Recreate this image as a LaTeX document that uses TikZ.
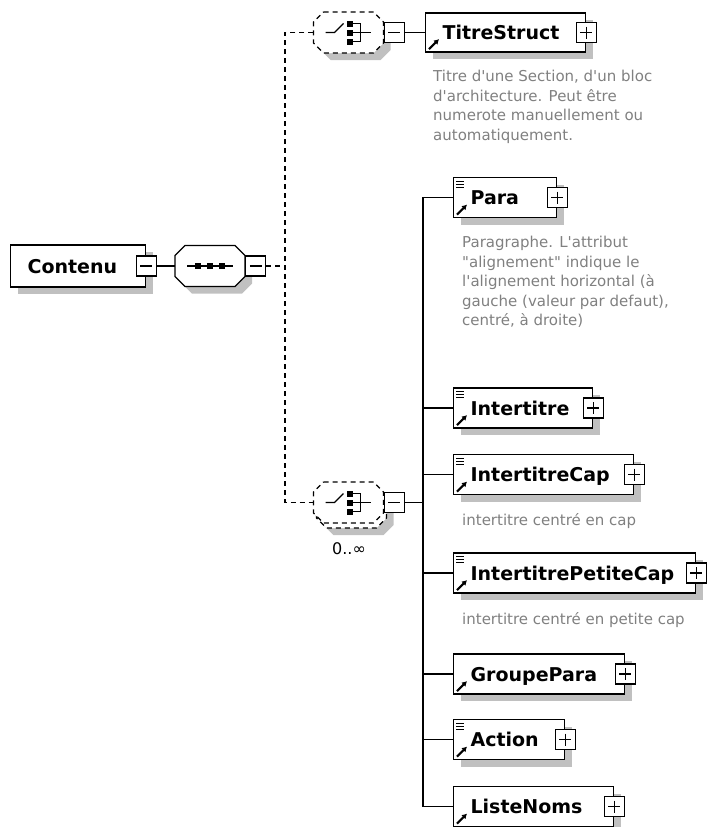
\documentclass[tikz,border=0pt]{standalone}
\usepackage{fontspec}
\setmainfont{DejaVu Sans}[Ligatures=TeXOff]
\usetikzlibrary{shadows,arrows.meta}
\definecolor{shadowgray}{RGB}{192,192,192}
\definecolor{docgray}{RGB}{128,128,128}
\tikzset{
  castshadow/.style={drop shadow={shadow xshift=7pt, shadow yshift=-7pt, fill=shadowgray, opacity=1}},
  elem/.style={draw, fill=white, line width=1.2pt, anchor=west, align=left, text width=#1,
    inner xsep=17pt, minimum height=40pt, text height=14pt, text depth=0pt,
    font=\fontsize{19}{22}\selectfont\bfseries, castshadow},
  signbox/.style={draw, fill=white, line width=1.2pt, minimum size=20pt, inner sep=0pt},
  minusbox/.style={signbox, path picture={
    \draw ([xshift=4pt]path picture bounding box.west) -- ([xshift=-4pt]path picture bounding box.east);}},
  plusbox/.style={signbox, path picture={
    \draw ([xshift=4pt]path picture bounding box.west) -- ([xshift=-4pt]path picture bounding box.east);
    \draw ([yshift=-4pt]path picture bounding box.north) -- ([yshift=4pt]path picture bounding box.south);}},
  octa/.pic={\path[pic actions] (-25,-20.5) -- (25,-20.5) -- (35,-10.5) -- (35,10.5) -- (25,20.5)
    -- (-25,20.5) -- (-35,10.5) -- (-35,-10.5) -- cycle;},
  octashadow/.style={fill=shadowgray},
  seqframe/.style={draw, fill=white, line width=1.2pt},
  choiceframe/.style={draw, fill=white, line width=1.2pt, dash pattern=on 5pt off 4pt},
  hub/.style={minimum width=70pt, minimum height=41pt, inner sep=0pt},
  link/.style={line width=1.2pt},
  optlink/.style={line width=1.2pt, dash pattern=on 5pt off 4pt},
  docicon/.style={line width=0.8pt},
  refarrow/.style={-{Latex[length=5pt,width=6pt]}, line width=2.2pt},
  doc/.style={anchor=north west, align=left, inner sep=0pt, text=docgray, font=\fontsize{15}{19.5}\selectfont}
}
\begin{document}
\begin{tikzpicture}[x=1pt, y=-1pt]
\useasboundingbox (0,0) rectangle (709,827);
% root element and its sequence
\node[elem=101pt, minimum height=42pt] (contenu) at (10,266) {Contenu};
\node[minusbox] (contenu-m) at (contenu.east) {};
\pic[octashadow] at (217,273) {octa};
\pic[seqframe] at (210,266) {octa};
\node[hub] (seq) at (210,266) {};
\node[minusbox, anchor=west] (seq-m) at (seq.east) {};
\draw[link] ([xshift=-23pt]seq.center) -- ([xshift=23pt]seq.center);
\fill ([shift={(-15,-3)}]seq.center) rectangle ++(6,6);
\fill ([shift={(-3,-3)}]seq.center) rectangle ++(6,6);
\fill ([shift={(9,-3)}]seq.center) rectangle ++(6,6);
\coordinate (split) at (285,266);

% first choice
\pic[octashadow] at (355.5,39.5) {octa};
\pic[choiceframe] at (348.5,32.5) {octa};
\node[hub] (choiceA) at (348.5,32.5) {};
\node[minusbox, anchor=west] (choiceA-m) at (choiceA.east) {};
\draw[link] ([xshift=-23pt]choiceA.center) -- ++(9,0) -- ++(9,-9);
\fill ([shift={(-2,-12)}]choiceA.center) rectangle ++(6,6);
\fill ([shift={(-2,-3)}]choiceA.center) rectangle ++(6,6);
\fill ([shift={(-2,6)}]choiceA.center) rectangle ++(6,6);
\draw[link] ([shift={(4,-9)}]choiceA.center) -| ([shift={(12,9)}]choiceA.center) -- ++(-8,0);
\draw[link] ([xshift=4pt]choiceA.center) -- ++(18,0);
\node[elem=126pt, minimum height=39pt] (titre) at (425,32.5) {TitreStruct};
\node[plusbox] (titre-p) at (titre.east) {};
\node[doc] (titre-doc) at ([shift={(8,17.5)}]titre.south west) {Titre d'une Section, d'un bloc\\d'architecture. Peut être\\numerote manuellement ou\\automatiquement.};

% second choice, repeated
\pic[octashadow] at (358.5,514.5) {octa};
\pic[choiceframe] at (351.5,507.5) {octa};
\pic[choiceframe] at (348.5,502.5) {octa};
\node[hub] (choiceB) at (348.5,502.5) {};
\node[minusbox, anchor=west] (choiceB-m) at (choiceB.east) {};
\draw[link] ([xshift=-23pt]choiceB.center) -- ++(9,0) -- ++(9,-9);
\fill ([shift={(-2,-12)}]choiceB.center) rectangle ++(6,6);
\fill ([shift={(-2,-3)}]choiceB.center) rectangle ++(6,6);
\fill ([shift={(-2,6)}]choiceB.center) rectangle ++(6,6);
\draw[link] ([shift={(4,-9)}]choiceB.center) -| ([shift={(12,9)}]choiceB.center) -- ++(-8,0);
\draw[link] ([xshift=4pt]choiceB.center) -- ++(18,0);
\node[font=\fontsize{16}{19}\selectfont] (choiceB-occ) at (349,549) {0..∞};
\coordinate (trunk) at (423,502.5);

% children of the second choice
\node[elem=69pt] (para) at (453,197.5) {Para};
\node[plusbox] (para-p) at (para.east) {};
\node[doc] (para-doc) at ([shift={(9,18)}]para.south west) {Paragraphe. L'attribut\\"alignement" indique le\\l'alignement horizontal (à\\gauche (valeur par defaut),\\centré, à droite)};
\node[elem=105pt] (intertitre) at (453,408) {Intertitre};
\node[plusbox] (intertitre-p) at (intertitre.east) {};
\node[elem=146pt] (intertitrecap) at (453,474.5) {IntertitreCap};
\node[plusbox] (intertitrecap-p) at (intertitrecap.east) {};
\node[doc] (intertitrecap-doc) at ([shift={(9,18)}]intertitrecap.south west) {intertitre centré en cap};
\node[elem=208pt] (petitecap) at (453,573) {IntertitrePetiteCap};
\node[plusbox] (petitecap-p) at (petitecap.east) {};
\node[doc] (petitecap-doc) at ([shift={(9,19)}]petitecap.south west) {intertitre centré en petite cap};
\node[elem=137pt] (groupepara) at (453,674) {GroupePara};
\node[plusbox] (groupepara-p) at (groupepara.east) {};
\node[elem=77pt] (action) at (453,739.5) {Action};
\node[plusbox] (action-p) at (action.east) {};
\node[elem=126pt] (listenoms) at (453,806.5) {ListeNoms};
\node[plusbox] (listenoms-p) at (listenoms.east) {};

% icons
\draw[docicon] ([shift={(3,4)}]para.north west) -- ++(8,0) ([shift={(3,7)}]para.north west) -- ++(8,0) ([shift={(3,10)}]para.north west) -- ++(8,0);
\draw[docicon] ([shift={(3,4)}]intertitre.north west) -- ++(8,0) ([shift={(3,7)}]intertitre.north west) -- ++(8,0) ([shift={(3,10)}]intertitre.north west) -- ++(8,0);
\draw[docicon] ([shift={(3,4)}]intertitrecap.north west) -- ++(8,0) ([shift={(3,7)}]intertitrecap.north west) -- ++(8,0) ([shift={(3,10)}]intertitrecap.north west) -- ++(8,0);
\draw[docicon] ([shift={(3,4)}]petitecap.north west) -- ++(8,0) ([shift={(3,7)}]petitecap.north west) -- ++(8,0) ([shift={(3,10)}]petitecap.north west) -- ++(8,0);
\draw[docicon] ([shift={(3,4)}]action.north west) -- ++(8,0) ([shift={(3,7)}]action.north west) -- ++(8,0) ([shift={(3,10)}]action.north west) -- ++(8,0);
\draw[refarrow] ([shift={(4,-3.5)}]titre.south west) -- ++(10,-10);
\draw[refarrow] ([shift={(4,-3.5)}]para.south west) -- ++(10,-10);
\draw[refarrow] ([shift={(4,-3.5)}]intertitre.south west) -- ++(10,-10);
\draw[refarrow] ([shift={(4,-3.5)}]intertitrecap.south west) -- ++(10,-10);
\draw[refarrow] ([shift={(4,-3.5)}]petitecap.south west) -- ++(10,-10);
\draw[refarrow] ([shift={(4,-3.5)}]groupepara.south west) -- ++(10,-10);
\draw[refarrow] ([shift={(4,-3.5)}]action.south west) -- ++(10,-10);
\draw[refarrow] ([shift={(4,-3.5)}]listenoms.south west) -- ++(10,-10);

% connectors
\draw[link] (contenu-m.east) -- (seq.west);
\draw[optlink] (seq-m.east) -- (split);
\draw[optlink] (choiceA.west) -| (split) |- (choiceB.west);
\draw[link] (choiceA-m.east) -- (titre.west);
\draw[link] (choiceB-m.east) -- (trunk);
\draw[link] (para.west) -| (trunk |- listenoms.west) -- (listenoms.west);
\draw[link] (intertitre.west -| trunk) -- (intertitre.west);
\draw[link] (intertitrecap.west -| trunk) -- (intertitrecap.west);
\draw[link] (petitecap.west -| trunk) -- (petitecap.west);
\draw[link] (groupepara.west -| trunk) -- (groupepara.west);
\draw[link] (action.west -| trunk) -- (action.west);
\end{tikzpicture}
\end{document}
